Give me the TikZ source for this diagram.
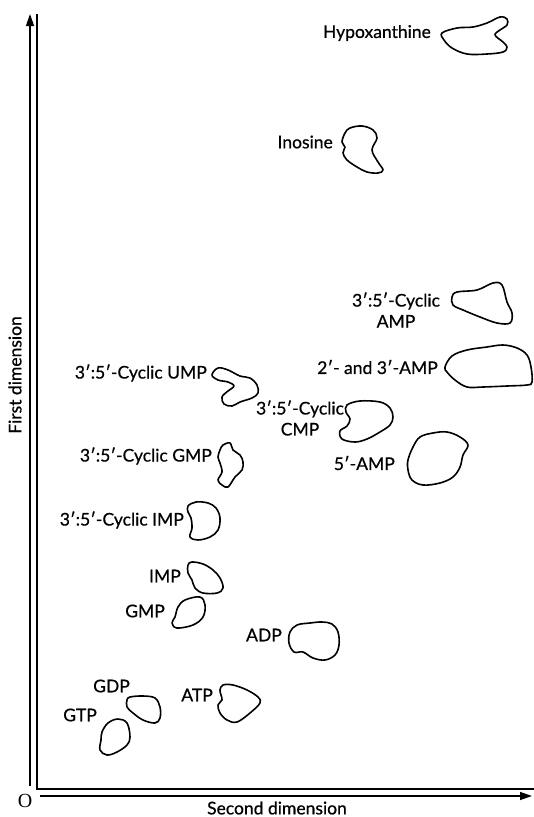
\documentclass[tikz,border=0pt]{standalone}
\usepackage{fontspec}
\setmainfont{Lato}
\newfontfamily\lblfont[FakeBold=0.6]{Lato}
\newfontfamily\serifO{Liberation Serif}
\usetikzlibrary{arrows.meta}
\begin{document}
\begin{tikzpicture}[x=1pt,y=-1pt,
  lbl/.style={font=\lblfont\fontsize{17.5}{21}\selectfont, inner sep=0pt},
  spot/.style={line width=1.6pt, line join=round},
  axis/.style={line width=1.3pt},
  axarrow/.style={line width=1.3pt, -{Triangle[length=12pt,width=8pt]}}]
\useasboundingbox (0,0) rectangle (534,817);

% axes
\coordinate (vb) at (30,786);
\coordinate (vt) at (30,14);
\coordinate (hl) at (40,796);
\coordinate (hr) at (532,796);
\coordinate (ftop) at (37,14);
\coordinate (fcorner) at (37,789);
\coordinate (fright) at (534,789);
\draw[axarrow] (vb) -- (vt);
\draw[axarrow] (hl) -- (hr);
\draw[axis] (ftop) -- (fcorner) -- (fright);
\node[font=\serifO\fontsize{20}{20}\selectfont, inner sep=0pt] (origin) at (25,801) {O};
\node[lbl] (xlab) at (277,808) {Second dimension};
\node[lbl, rotate=90] (ylab) at (15,375) {First dimension};

% spots
\draw[spot] plot[smooth cycle, tension=0.6] coordinates {(442,33) (457,28) (473,27) (487,23) (500,17) (507,19) (507,25) (500,30) (495,35) (503,42) (507,47) (503,52) (487,54) (467,54) (452,48) (444,40)};
\node[lbl, anchor=east] (hypo) at (431,33) {Hypoxanthine};

\draw[spot] plot[smooth cycle, tension=0.6] coordinates {(350,128) (362,126) (373,130) (377,138) (372,150) (378,162) (383,170) (378,173) (367,172) (357,167) (347,160) (343,153) (345,147) (342,142) (345,133)};
\node[lbl, anchor=east] (ino) at (333,142) {Inosine};

\draw[spot] plot[smooth cycle, tension=0.6] coordinates {(452,297) (457,292) (477,290) (493,283) (502,285) (507,302) (512,313) (510,323) (497,323) (480,317) (463,310) (453,305)};
\node[lbl, align=center] (camp) at (396,310) {3′:5′-Cyclic\\AMP};

\draw[spot] plot[smooth cycle, tension=0.6] coordinates {(445,367) (452,356) (467,350) (487,347) (503,345) (517,348) (527,355) (531,367) (532,382) (527,385) (507,386) (483,387) (467,387) (455,380) (447,372)};
\node[lbl, anchor=east] (amp23) at (438,367) {2′- and 3′-AMP};

\draw[spot] plot[smooth cycle, tension=0.6] coordinates {(347,405) (360,401) (380,402) (390,408) (393,417) (390,425) (380,432) (367,439) (355,442) (342,439) (340,431) (347,426) (350,419) (346,412)};
\node[lbl, align=center] (ccmp) at (300,418) {3′:5′-Cyclic\\CMP};

\draw[spot] plot[smooth cycle, tension=0.6] coordinates {(408,460) (413,447) (420,437) (433,433) (447,432) (460,437) (468,445) (463,455) (460,467) (453,477) (440,483) (423,485) (412,480) (408,470)};
\node[lbl, anchor=east] (amp5) at (395,463) {5′-AMP};

\draw[spot] plot[smooth cycle, tension=0.6] coordinates {(212,375) (218,368) (228,370) (240,376) (250,378) (257,385) (258,393) (252,398) (240,402) (232,406) (224,404) (222,397) (228,391) (234,386) (228,382) (218,380)};
\node[lbl, anchor=east] (cump) at (207,373) {3′:5′-Cyclic UMP};

\draw[spot] plot[smooth cycle, tension=0.6] coordinates {(220,450) (223,445) (230,443) (233,450) (240,455) (243,462) (242,470) (235,477) (228,487) (222,485) (218,480) (222,472) (220,463) (218,457)};
\node[lbl, anchor=east] (cgmp) at (212,456) {3′:5′-Cyclic GMP};

\draw[spot] plot[smooth cycle, tension=0.6] coordinates {(188,506) (196,502) (208,503) (216,508) (220,518) (218,530) (210,537) (198,540) (190,537) (192,528) (191,518) (188,512)};
\node[lbl, anchor=east] (cimp) at (184,520) {3′:5′-Cyclic IMP};

\draw[spot] plot[smooth cycle, tension=0.6] coordinates {(188,565) (192,562) (203,564) (213,570) (220,578) (223,588) (217,593) (203,593) (195,588) (192,580) (188,573)};
\node[lbl, anchor=east] (imp) at (181,576) {IMP};

\draw[spot] plot[smooth cycle, tension=0.6] coordinates {(178,607) (185,600) (200,597) (205,605) (203,617) (193,625) (177,628) (172,623) (175,617)};
\node[lbl, anchor=east] (gmp) at (165,611) {GMP};

\draw[spot] plot[smooth cycle, tension=0.6] coordinates {(290,632) (297,625) (310,623) (322,622) (332,624) (338,632) (339,645) (335,655) (325,660) (313,658) (303,652) (294,652) (289,643)};
\node[lbl, anchor=east] (adp) at (282,635) {ADP};

\draw[spot] plot[smooth cycle, tension=0.6] coordinates {(127,700) (130,697) (143,696) (155,698) (160,707) (160,718) (155,723) (143,720) (133,713) (127,707)};
\node[lbl, anchor=east] (gdp) at (130,686) {GDP};

\draw[spot] plot[smooth cycle, tension=0.6] coordinates {(102,732) (108,723) (118,719) (127,723) (130,737) (127,745) (117,752) (107,755) (100,750) (101,740)};
\node[lbl, anchor=east] (gtp) at (97,715) {GTP};

\draw[spot] plot[smooth cycle, tension=0.6] coordinates {(220,690) (223,685) (233,685) (247,690) (258,697) (260,703) (250,713) (237,722) (227,720) (220,713) (218,705) (222,700) (221,695)};
\node[lbl, anchor=east] (atp) at (213,695) {ATP};
\end{tikzpicture}
\end{document}
